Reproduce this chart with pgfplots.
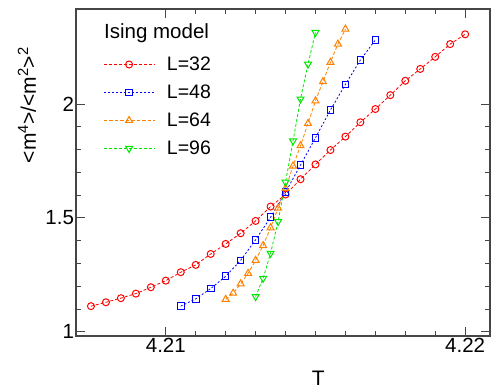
\documentclass[border=0pt]{standalone}
\usepackage{pgfplots}
\pgfplotsset{compat=1.18}
\usepackage{fontspec}
\setmainfont{Liberation Sans}
\definecolor{mred}{RGB}{255,0,0}
\definecolor{mblue}{RGB}{0,0,255}
\definecolor{morange}{RGB}{255,128,0}
\definecolor{mgreen}{RGB}{0,230,0}
\definecolor{axgray}{RGB}{70,70,70}
\begin{document}
\begin{tikzpicture}
\useasboundingbox (-76pt,-53pt) rectangle (415pt,336pt);
\begin{axis}[
  at={(0pt,0pt)}, anchor=south west,
  width=414pt, height=327pt, scale only axis,
  xmin=4.207, xmax=4.22083, ymin=0.982, ymax=2.417,
  xtick={4.21,4.22}, minor x tick num=9,
  ytick={1,1.5,2}, minor y tick num=4,
  tick align=inside, major tick length=9pt, minor tick length=5pt,
  axis line style={axgray, line width=1.5pt},
  every tick/.style={axgray, line width=1pt},
  /pgf/number format/assume math mode=true,
  tick label style={font=\fontsize{20.5}{24}\selectfont},
  xticklabel style={yshift=1pt, /pgf/number format/.cd, fixed, fixed zerofill, precision=2},
  yticklabel style={xshift=1.5pt, /pgf/number format/.cd, fixed},
  every axis y label/.style={at={(rel axis cs:-0.1184,0.706)}, rotate=90, anchor=center},
  every axis x label/.style={at={(rel axis cs:0.585,-0.128)}, anchor=center},
  label style={font=\fontsize{21}{24}\selectfont},
  xlabel={T},
  ylabel={<m\textsuperscript{4}>/<m\textsuperscript{2}>\textsuperscript{2}},
  legend cell align=left,
  legend style={at={(rel axis cs:0.0652,0.860)}, anchor=north west, draw=none, fill=none,
    inner xsep=0pt, inner ysep=0pt, row sep=9pt, column sep=10pt,
    font=\fontsize{19.5}{22}\selectfont,
    nodes={inner sep=2pt, text height=13.5pt}},
  legend image code/.code={\draw[mark repeat=2,mark phase=2,#1] plot coordinates {(0pt,0pt) (25.5pt,0pt) (51pt,0pt)};},
]
\addplot[mred, line width=0.8pt, dash pattern=on 3pt off 2pt, mark=o, mark size=3.5pt, mark options={solid, line width=1pt}] coordinates {
(4.2075,1.113) (4.2080,1.130) (4.2085,1.148) (4.2090,1.168) (4.2095,1.196)
(4.2100,1.225) (4.2105,1.262) (4.2110,1.294) (4.2115,1.342) (4.2120,1.386)
(4.2125,1.433) (4.2130,1.487) (4.2135,1.550) (4.2140,1.603) (4.2145,1.670)
(4.2150,1.735) (4.2155,1.798) (4.2160,1.857) (4.2165,1.920) (4.2170,1.978)
(4.2175,2.039) (4.2180,2.102) (4.2185,2.154) (4.2190,2.207) (4.2195,2.263)
(4.2200,2.306)};
\addlegendentry{L=32}
\addplot[mblue, line width=0.8pt, dash pattern=on 2pt off 2pt, mark=square, mark size=3.3pt, mark options={solid, line width=1pt}] coordinates {
(4.2105,1.113) (4.2110,1.145) (4.2115,1.190) (4.2120,1.244) (4.2125,1.314)
(4.2130,1.404) (4.2135,1.503) (4.2140,1.613) (4.2145,1.732) (4.2150,1.852)
(4.2155,1.974) (4.2160,2.086) (4.2165,2.193) (4.2170,2.281)};
\addlegendentry{L=48}
\addplot[morange, line width=0.8pt, dash pattern=on 3.5pt off 2pt, mark=triangle, mark size=4pt, mark options={solid, line width=1pt}] coordinates {
(4.21200,1.143) (4.21225,1.170) (4.21250,1.211) (4.21275,1.257) (4.21300,1.314)
(4.21325,1.379) (4.21350,1.457) (4.21375,1.543) (4.21400,1.630) (4.21425,1.728)
(4.21450,1.817) (4.21475,1.915) (4.21500,2.014) (4.21525,2.098) (4.21550,2.183)
(4.21575,2.263) (4.21600,2.329)};
\addlegendentry{L=64}
\addplot[mgreen, line width=0.8pt, dash pattern=on 3pt off 2pt, mark=triangle, mark size=4pt, mark options={solid, line width=1pt, rotate=180}] coordinates {
(4.21300,1.155) (4.21325,1.235) (4.21350,1.345) (4.21375,1.484) (4.21400,1.657)
(4.21425,1.838) (4.21450,2.022) (4.21475,2.175) (4.21500,2.314)};
\addlegendentry{L=96}
\node[anchor=base west, inner sep=0pt, font=\fontsize{20.5}{24}\selectfont] at (rel axis cs:0.0676,0.911) {Ising model};
\end{axis}
\end{tikzpicture}
\end{document}
